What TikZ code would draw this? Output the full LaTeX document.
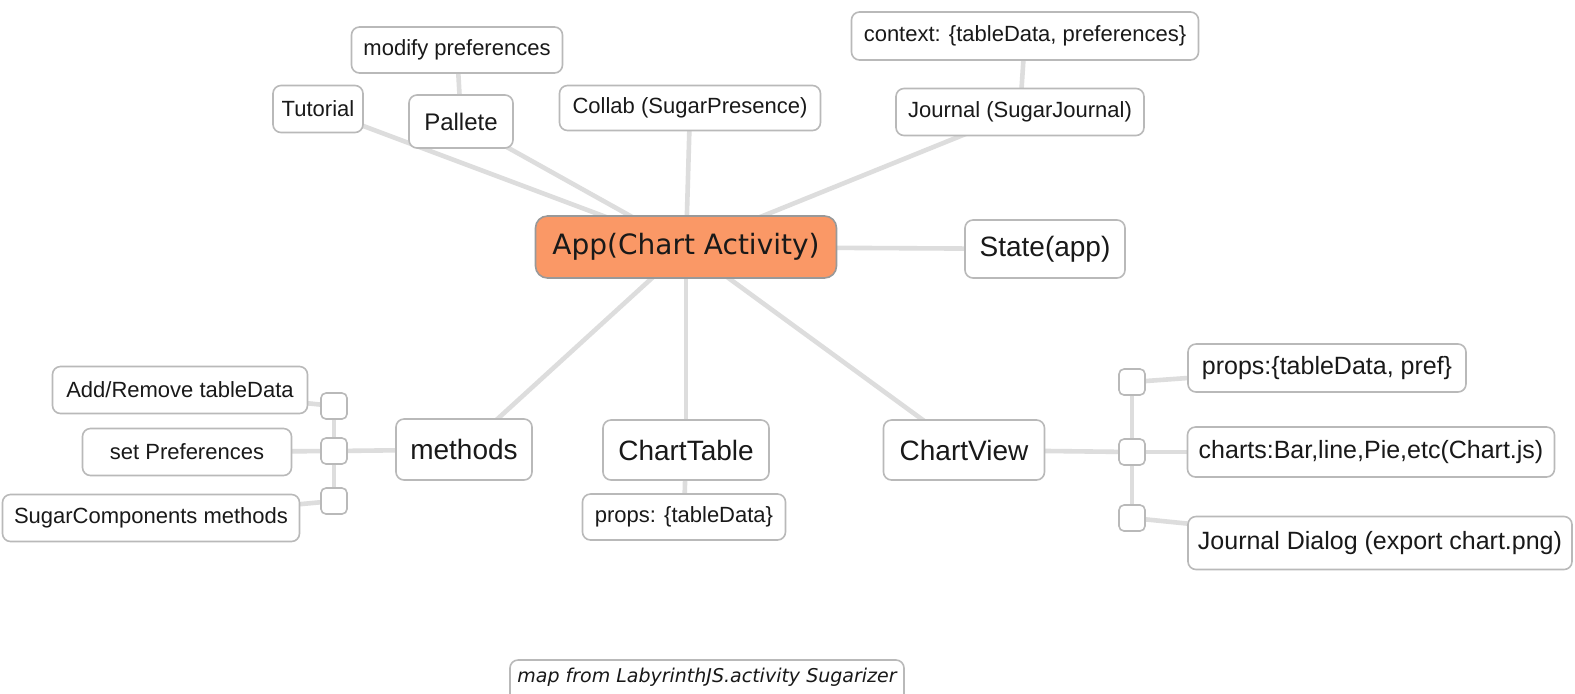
\documentclass[tikz,border=0pt]{standalone}
\usepackage{fontspec}
\setmainfont{Liberation Sans}
\newfontfamily\verd{DejaVu Sans}
\usetikzlibrary{calc}
\pgfdeclarelayer{back}
\pgfdeclarelayer{bg}
\pgfsetlayers{back,bg,main}
\definecolor{bordergray}{RGB}{185,185,185}
\definecolor{linkgray}{RGB}{221,221,221}
\definecolor{apporange}{RGB}{250,152,102}
\definecolor{textdark}{RGB}{25,25,25}
\begin{document}
\begin{tikzpicture}[x=0.5pt,y=-0.5pt,
  box/.style={draw=bordergray, line width=0.8pt, rounded corners=4pt, fill=white, inner sep=0pt, text=textdark, font=\fontsize{11}{13}\selectfont},
  big/.style={box, font=\fontsize{14}{16}\selectfont},
  mid/.style={box, font=\fontsize{12.5}{15}\selectfont},
  sq/.style={draw=bordergray, line width=0.8pt, rounded corners=2.5pt, fill=white, minimum size=13pt, inner sep=0pt},
  sz/.style 2 args={minimum width=#1*0.5pt, minimum height=#2*0.5pt},
  link/.style={draw=linkgray, line width=2.3pt}]
\useasboundingbox (0,0) rectangle (1575,693);
\clip (0,0) rectangle (1575,693);
\begin{pgfonlayer}{back}
\fill[white] (0,0) rectangle (1575,693);
\end{pgfonlayer}
% top
\node[box,sz={211}{46}] (modpref) at (457,50) {modify preferences};
\node[box,sz={90}{47}] (tut) at (318,109) {Tutorial};
\node[box,sz={104}{53},font=\fontsize{12}{14}\selectfont] (pal) at (461,121.5) {Pallete};
\node[box,sz={261}{45}] (collab) at (690,108) {Collab (SugarPresence)};
\node[box,sz={347}{48}] (ctx) at (1025,36) {context: \{tableData, preferences\}};
\node[box,sz={248}{47}] (journal) at (1020,112) {Journal (SugarJournal)};
% center
\node[box, fill=apporange, draw=gray!80, sz={301}{62}, rounded corners=6pt, font={\verd\fontsize{14}{16}\selectfont}] (app) at (686,247) {App(Chart Activity)};
\node[big,sz={160}{58}] (state) at (1045,249) {State(app)};
% bottom row
\node[big,sz={136}{61}] (methods) at (464,449.5) {methods};
\node[big,sz={166}{60}] (ctable) at (686,450) {ChartTable};
\node[box,sz={203}{46}] (ctprops) at (684,517) {props: \{tableData\}};
\node[big,sz={161}{60}] (cview) at (964,450) {ChartView};
% left squares
\node[sq] (sqL1) at (334,406) {};
\node[sq] (sqL2) at (334,451) {};
\node[sq] (sqL3) at (334,501) {};
\node[box,sz={255}{47}] (addrem) at (180,390) {Add/Remove tableData};
\node[box,sz={209}{47}] (setpref) at (187,452) {set Preferences};
\node[box,sz={297}{47}] (sugcomp) at (151,518) {SugarComponents methods};
% right squares
\node[sq] (sqR1) at (1132,382) {};
\node[sq] (sqR2) at (1132,452) {};
\node[sq] (sqR3) at (1132,518) {};
\node[mid,sz={278}{48}] (cvprops) at (1327,368) {props:\{tableData, pref\}};
\node[mid,sz={367}{50}] (charts) at (1371,452) {charts:Bar,line,Pie,etc(Chart.js)};
\node[mid,sz={384}{53}] (jdialog) at (1380,543) {Journal Dialog (export chart.png)};
% credit
\node[text=textdark, inner sep=0pt, font={\verd\itshape\fontsize{9.5}{11}\selectfont}] (credit) at (707,677) {map from LabyrinthJS.activity Sugarizer};
\draw[bordergray, line width=0.8pt, rounded corners=4pt] ($(credit.center)+(-197,-17)$) rectangle ($(credit.center)+(197,40)$);
% connectors
\begin{pgfonlayer}{bg}
\draw[link] (tut.center) -- (app.center);
\draw[link] (pal.center) -- (app.center);
\draw[link] (pal.center) -- (modpref.center);
\draw[link] (collab.center) -- (app.center);
\draw[link] (journal.center) -- (app.center);
\draw[link] (journal.center) -- (ctx.center);
\draw[link] (state.center) -- (app.center);
\draw[link] (methods.center) -- (app.center);
\draw[link] (ctable.center) -- (app.center);
\draw[link] (ctable.center) -- (ctprops.center);
\draw[link] (cview.center) -- (app.center);
\draw[link] (methods.center) -- (sqL2.center);
\draw[link, line width=2pt] (sqL1.center) -- (sqL3.center);
\draw[link] (sqL1.center) -- (addrem.center);
\draw[link] (sqL2.center) -- (setpref.center);
\draw[link] (sqL3.center) -- (sugcomp.center);
\draw[link] (cview.center) -- (sqR2.center);
\draw[link, line width=2pt] (sqR1.center) -- (sqR3.center);
\draw[link] (sqR1.center) -- (cvprops.center);
\draw[link] (sqR2.center) -- (charts.center);
\draw[link] (sqR3.center) -- (jdialog.center);
\end{pgfonlayer}
\end{tikzpicture}
\end{document}
